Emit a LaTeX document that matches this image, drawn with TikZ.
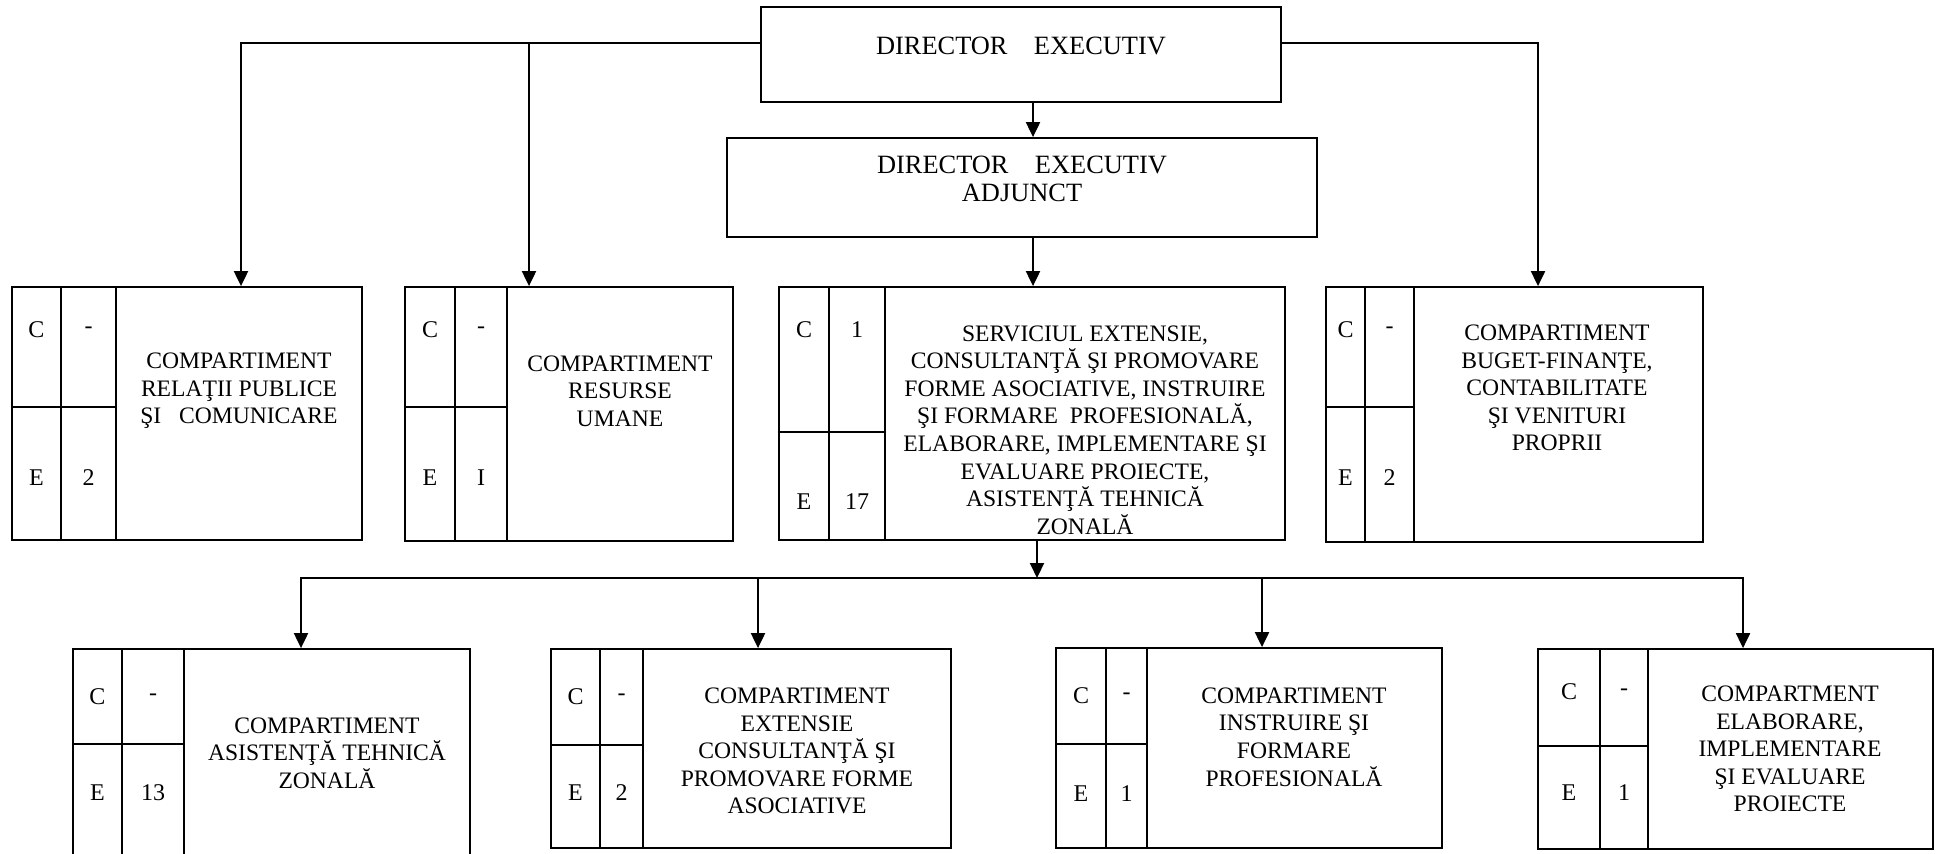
\documentclass[tikz,border=0pt]{standalone}
\usepackage{fontspec}
\setmainfont{Liberation Serif}
\usepackage{tikz}
\usetikzlibrary{arrows.meta, fit, positioning}
\tikzset{
  >=latex,  % varfuri de sageata
  % casete
  box/.style={draw, line width=0.9pt, inner sep=0pt},
  head/.style={box, align=center, font=\fontsize{13.2}{14}\selectfont},
  unittxt/.style={align=center, font=\fontsize{11.8}{13.8}\selectfont},
  celltxt/.style={font=\fontsize{12}{14}\selectfont},
  % legaturi
  link/.style={line width=1pt, -{Triangle[length=7.5pt,width=7pt]}},
}

\begin{document}
\begin{tikzpicture}[x=0.5pt, y=-0.5pt]
\useasboundingbox (0,0) rectangle (1936,853);

% Conducere
\node[head, fit={(761,7) (1281,102)}] (de) {DIRECTOR\quad EXECUTIV};
\node[head, fit={(727,138) (1317,237)}] (da) {DIRECTOR\quad EXECUTIV\\ADJUNCT};

% Compartimente: nume/stanga/col1/col2/dreapta/sus/mijloc/jos/yC/yE/C/E
\foreach \nm/\xl/\xa/\xb/\xr/\yt/\ym/\yb/\yc/\ye/\cv/\ev in {
    rp/12/61/116/362/287/407/540/330/478/-/2,
    ru/405/455/507/733/287/407/541/330/478/-/I,
    sv/779/829/885/1285/287/432/540/330/502/1/17,
    bf/1326/1365/1414/1703/287/407/542/330/478/-/2,
    at/73/122/184/470/649/744/870/697/793/-/13,
    ec/551/600/643/951/649/745/848/697/793/-/2,
    ip/1056/1106/1147/1442/648/744/848/696/794/-/1,
    ep/1538/1600/1648/1933/649/746/849/692/793/-/1}{
  \node[box, fit={(\xl,\yt) (\xr,\yb)}] (\nm) {};
  \draw[line width=0.9pt] (\xa,\yt) -- (\xa,\yb) (\xb,\yt) -- (\xb,\yb) (\xl,\ym) -- (\xb,\ym);
  \node[celltxt] at ({(\xl+\xa)/2},\yc) {C};
  \node[celltxt] at ({(\xa+\xb)/2},\yc) {\cv};
  \node[celltxt] at ({(\xl+\xa)/2},\ye) {E};
  \node[celltxt] at ({(\xa+\xb)/2},\ye) {\ev};
}

\node[unittxt] (rp-t) at (239,391) {COMPARTIMENT\\RELAŢII PUBLICE\\ŞI~~~COMUNICARE};
\node[unittxt] (ru-t) at (620,391) {COMPARTIMENT\\RESURSE\\UMANE};
\node[unittxt] (sv-t) at (1085,430) {SERVICIUL EXTENSIE,\\CONSULTANŢĂ ŞI PROMOVARE\\FORME ASOCIATIVE, INSTRUIRE\\ŞI FORMARE~~PROFESIONALĂ,\\ELABORARE, IMPLEMENTARE ŞI\\EVALUARE PROIECTE,\\ASISTENŢĂ TEHNICĂ\\ZONALĂ};
\node[unittxt] (bf-t) at (1557,388) {COMPARTIMENT\\BUGET-FINANŢE,\\CONTABILITATE\\ŞI VENITURI\\PROPRII};
\node[unittxt] (at-t) at (327,753) {COMPARTIMENT\\ASISTENŢĂ TEHNICĂ\\ZONALĂ};
\node[unittxt] (ec-t) at (797,751) {COMPARTIMENT\\EXTENSIE\\CONSULTANŢĂ ŞI\\PROMOVARE FORME\\ASOCIATIVE};
\node[unittxt] (ip-t) at (1294,737) {COMPARTIMENT\\INSTRUIRE ŞI\\FORMARE\\PROFESIONALĂ};
\node[unittxt] (ep-t) at (1790,749) {COMPARTMENT\\ELABORARE,\\IMPLEMENTARE\\ŞI EVALUARE\\PROIECTE};

% Legaturi
\coordinate (j1) at (529,43);
\coordinate (bus) at (1037,578);
\draw[link] (de.west |- 0,43) -| (rp.north -| 241,0);
\draw[link] (j1) -- (ru.north -| j1);
\draw[link] (de.east |- 0,43) -| (bf.north -| 1538,0);
\draw[link] (de.south -| 1033,0) -- (da.north -| 1033,0);
\draw[link] (da.south -| 1033,0) -- (sv.north -| 1033,0);
\draw[link] (sv.south -| bus) -- (bus);
\draw[link] (bus) -| (at.north -| 301,0);
\draw[link] (bus) -| (ep.north -| 1743,0);
\draw[link] (bus -| 758,0) -- (ec.north -| 758,0);
\draw[link] (bus -| 1262,0) -- (ip.north -| 1262,0);

\end{tikzpicture}
\end{document}
